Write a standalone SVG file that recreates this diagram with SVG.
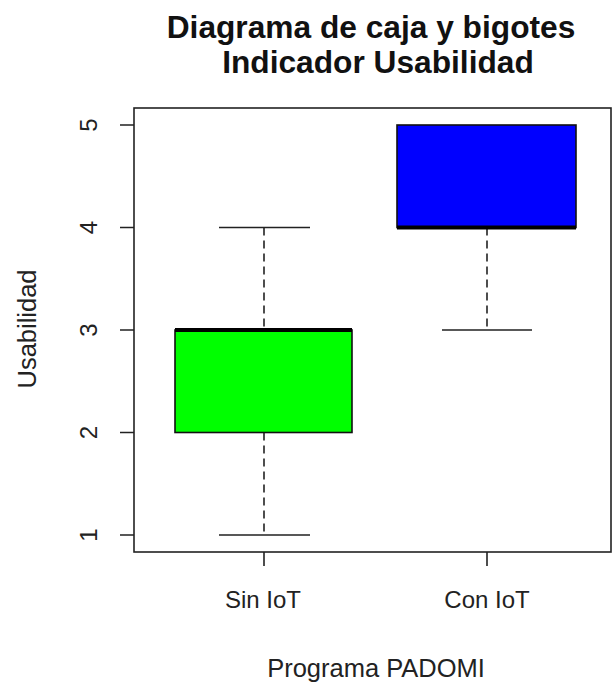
<svg xmlns="http://www.w3.org/2000/svg" width="612" height="686" viewBox="0 0 612 686">
<style>
text{font-family:"Liberation Sans",Arial,sans-serif;fill:#222}
.title{font-size:31.7px;font-weight:bold;text-anchor:middle;fill:#111}
.lab{font-size:24px;text-anchor:middle}
.axt{font-size:25.5px;text-anchor:middle}
.ax{stroke:#222;stroke-width:1.6;fill:none}
.box{stroke:#111;stroke-width:1.6}
.med{stroke:#000;stroke-width:4}
.dash{stroke:#222;stroke-width:1.6;stroke-dasharray:8,5}
</style>
<rect width="612" height="686" fill="#fff"/>
<g id="title">
<text class="title" x="371" y="38">Diagrama de caja y bigotes</text>
<text class="title" x="378" y="73">Indicador Usabilidad</text>
</g>
<g id="axes">
<rect class="ax" x="134" y="108" width="477" height="444"/>
<path class="ax" d="M120 125H134M120 227.5H134M120 330H134M120 432.5H134M120 535H134"/>
<path class="ax" d="M264 552V566M487 552V566"/>
<text class="lab" transform="translate(97 125) rotate(-90)">5</text>
<text class="lab" transform="translate(97 227.5) rotate(-90)">4</text>
<text class="lab" transform="translate(97 330) rotate(-90)">3</text>
<text class="lab" transform="translate(97 432.5) rotate(-90)">2</text>
<text class="lab" transform="translate(97 535) rotate(-90)">1</text>
<text class="lab" x="263" y="608">Sin IoT</text>
<text class="lab" x="487" y="608">Con IoT</text>
<text class="axt" x="376" y="677">Programa PADOMI</text>
<text class="axt" transform="translate(36 329) rotate(-90)">Usabilidad</text>
</g>
<g id="connectors">
<path class="dash" d="M264 227.5V330M264 432.5V535"/>
<path class="dash" d="M487 227.5V330"/>
<path class="ax" d="M219 227.5H310M219 535H310M442 330H532"/>
</g>
<g id="box-sin-iot">
<rect class="box" x="175" y="330" width="177" height="102.5" fill="#00ff00"/>
<line class="med" x1="175" y1="330" x2="352" y2="330"/>
</g>
<g id="box-con-iot">
<rect class="box" x="397" y="125" width="179" height="102.5" fill="#0000ff"/>
<line class="med" x1="397" y1="227.5" x2="576" y2="227.5"/>
</g>
</svg>
